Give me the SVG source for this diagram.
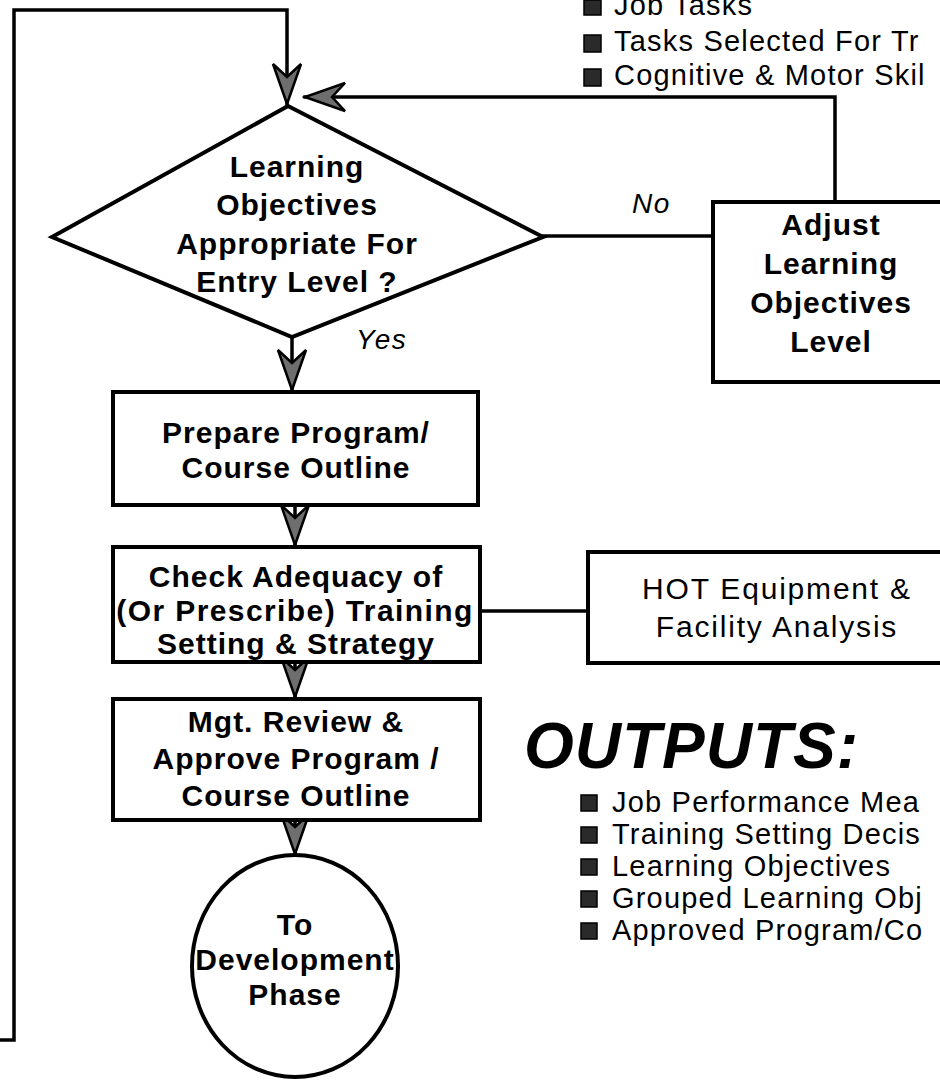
<svg xmlns="http://www.w3.org/2000/svg" width="940" height="1085" viewBox="0 0 940 1085">
<defs>
<style>
.ln{fill:none;stroke:#000;stroke-width:3.5;stroke-linejoin:miter;stroke-linecap:square}
.box{fill:#fff;stroke:#000;stroke-width:4}
.t{font-family:"Liberation Sans",Arial,Helvetica,sans-serif;font-size:30px;fill:#000;text-anchor:middle}
.b{font-weight:bold;letter-spacing:1px}
.r{font-weight:normal;letter-spacing:1.8px}
.it{font-family:"Liberation Sans",Arial,sans-serif;font-style:italic;font-size:28px;letter-spacing:1.5px;fill:#000}
.li{font-family:"Liberation Sans",Arial,sans-serif;font-size:29px;letter-spacing:1.2px;fill:#000}
.bul{fill:#2a2a2a;stroke:#000;stroke-width:1.5}
.hd{font-family:"Liberation Sans",Arial,sans-serif;font-style:italic;font-weight:bold;font-size:64px;letter-spacing:1px;fill:#000}
</style>
<marker id="ah" markerUnits="userSpaceOnUse" markerWidth="46" markerHeight="34" viewBox="-43 -17 46 34" refX="0" refY="0" orient="auto">
<path d="M0,0 L-40,-14 L-27,0 L-40,14 Z" fill="#6e6e6e" stroke="#000" stroke-width="2.5"/>
</marker>
</defs>
<rect width="940" height="1085" fill="#fff"/>

<g id="connectors">
<path class="ln" d="M0,1040 L14,1040 L14,10 L287,10 L287,104" marker-end="url(#ah)"/>
<path class="ln" d="M835,202 L835,97 L305,97" marker-end="url(#ah)"/>
<path class="ln" d="M543,236 L713,236"/>
<path class="ln" d="M292,337 L292,390" marker-end="url(#ah)"/>
<path class="ln" d="M295,505 L295,545" marker-end="url(#ah)"/>
<path class="ln" d="M295,662 L295,697" marker-end="url(#ah)"/>
<path class="ln" d="M295,820 L295,854" marker-end="url(#ah)"/>
<path class="ln" d="M480,611 L588,611"/>
</g>

<g id="top-list">
<rect class="bul" x="584" y="0" width="17" height="15"/>
<text class="li" x="614" y="15">Job Tasks</text>
<rect class="bul" x="584" y="35" width="17" height="17"/>
<text class="li" x="614" y="51">Tasks Selected For Tr</text>
<rect class="bul" x="584" y="69" width="17" height="17"/>
<text class="li" x="614" y="85">Cognitive &amp; Motor Skil</text>
</g>

<g id="decision">
<polygon class="box" points="52,237 288,106 543,237 292,337"/>
<text class="t b" x="297" y="177">Learning</text>
<text class="t b" x="297" y="215">Objectives</text>
<text class="t b" x="297" y="254">Appropriate For</text>
<text class="t b" x="297" y="292">Entry Level ?</text>
</g>

<g id="label-no"><text class="it" x="632" y="213">No</text></g>
<g id="label-yes"><text class="it" x="356" y="349">Yes</text></g>

<g id="adjust">
<rect class="box" x="713" y="202" width="240" height="180"/>
<text class="t b" x="831" y="235">Adjust</text>
<text class="t b" x="831" y="274">Learning</text>
<text class="t b" x="831" y="313">Objectives</text>
<text class="t b" x="831" y="352">Level</text>
</g>

<g id="prepare">
<rect class="box" x="113" y="392" width="365" height="113"/>
<text class="t b" x="296" y="443">Prepare Program/</text>
<text class="t b" x="296" y="478">Course Outline</text>
</g>

<g id="check">
<rect class="box" x="113" y="547" width="367" height="115"/>
<text class="t b" x="296" y="587">Check Adequacy of</text>
<text class="t b" style="letter-spacing:1.4px" x="295" y="621">(Or Prescribe) Training</text>
<text class="t b" x="296" y="654">Setting &amp; Strategy</text>
</g>

<g id="hot">
<rect class="box" x="588" y="552" width="365" height="111"/>
<text class="t r" x="777" y="599">HOT Equipment &amp;</text>
<text class="t r" x="777" y="637">Facility Analysis</text>
</g>

<g id="mgt">
<rect class="box" x="113" y="699" width="367" height="121"/>
<text class="t b" x="296" y="732">Mgt. Review &amp;</text>
<text class="t b" x="296" y="769">Approve Program /</text>
<text class="t b" x="296" y="806">Course Outline</text>
</g>

<g id="dev">
<ellipse class="box" cx="295" cy="966" rx="103" ry="111"/>
<text class="t b" x="295" y="935">To</text>
<text class="t b" x="295" y="970">Development</text>
<text class="t b" x="295" y="1005">Phase</text>
</g>

<g id="outputs">
<text class="hd" x="524" y="768">OUTPUTS:</text>
<rect class="bul" x="581" y="795" width="16" height="16"/>
<text class="li" x="612" y="812">Job Performance Mea</text>
<rect class="bul" x="581" y="827" width="16" height="16"/>
<text class="li" x="612" y="844">Training Setting Decis</text>
<rect class="bul" x="581" y="859" width="16" height="16"/>
<text class="li" x="612" y="876">Learning Objectives</text>
<rect class="bul" x="581" y="891" width="16" height="16"/>
<text class="li" x="612" y="908">Grouped Learning Obj</text>
<rect class="bul" x="581" y="923" width="16" height="16"/>
<text class="li" x="612" y="940">Approved Program/Co</text>
</g>
</svg>
